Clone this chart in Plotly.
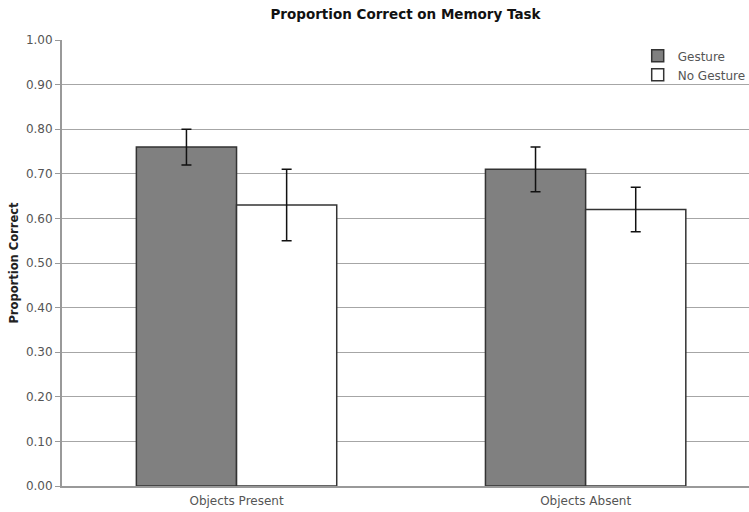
import plotly.graph_objects as go

categories = ["Objects Present", "Objects Absent"]
gesture = [0.76, 0.71]
gesture_err = [0.04, 0.05]
no_gesture = [0.63, 0.62]
no_gesture_err = [0.08, 0.05]
y_ticks = [0.0, 0.1, 0.2, 0.3, 0.4, 0.5, 0.6, 0.7, 0.8, 0.9, 1.0]
y_tick_labels = ["%.2f" % v for v in y_ticks]

font_family = "DejaVu Sans, Verdana, sans-serif"

fig = go.Figure()
fig.add_trace(go.Bar(
    name="Gesture", x=categories, y=gesture,
    marker=dict(color="#808080", line=dict(color="#333333", width=1.5)),
    error_y=dict(type="data", array=gesture_err, color="#111111", thickness=1.5, width=5),
))
fig.add_trace(go.Bar(
    name="No Gesture", x=categories, y=no_gesture,
    marker=dict(color="#ffffff", line=dict(color="#333333", width=1.5)),
    error_y=dict(type="data", array=no_gesture_err, color="#111111", thickness=1.5, width=5),
))

fig.update_layout(
    width=749, height=512,
    margin=dict(l=62, r=0, t=40, b=26, autoexpand=False),
    paper_bgcolor="white", plot_bgcolor="white",
    barmode="group", bargap=0.426, bargroupgap=0,
    font=dict(family=font_family, size=12, color="#555555"),
    title=dict(text="<b>Proportion Correct on Memory Task</b>", x=0.5, xref="paper",
               xanchor="center", y=1 - 14 / 512, yref="container", yanchor="middle",
               font=dict(family=font_family, size=13.5, color="#111111")),
    legend=dict(x=0.838, y=0.997, xanchor="left", yanchor="top",
                bgcolor="rgba(0,0,0,0)", itemwidth=30, tracegroupgap=0,
                font=dict(family=font_family, size=12, color="#555555")),
    showlegend=True,
)
fig.update_xaxes(
    range=[-0.5, 1.468], showgrid=False, showline=True, linecolor="#999999",
    linewidth=2, ticks="", tickfont=dict(size=12, color="#555555"),
    ticklabelstandoff=3,
)
fig.update_yaxes(
    range=[0, 1.0], tickvals=y_ticks, ticktext=y_tick_labels,
    showgrid=True, gridcolor="#a6a6a6", gridwidth=1,
    showline=True, linecolor="#999999", linewidth=2,
    ticks="outside", ticklen=5, tickcolor="#999999",
    tickfont=dict(size=12, color="#555555"),
    title=dict(text="<b>Proportion Correct</b>", font=dict(size=11.5, color="#222222"), standoff=5),
    zeroline=False,
)
fig.write_html(
    "out.html",
    config={"displayModeBar": False},
    post_script="document.body.style.margin='0';document.body.style.overflow='hidden';",
)
